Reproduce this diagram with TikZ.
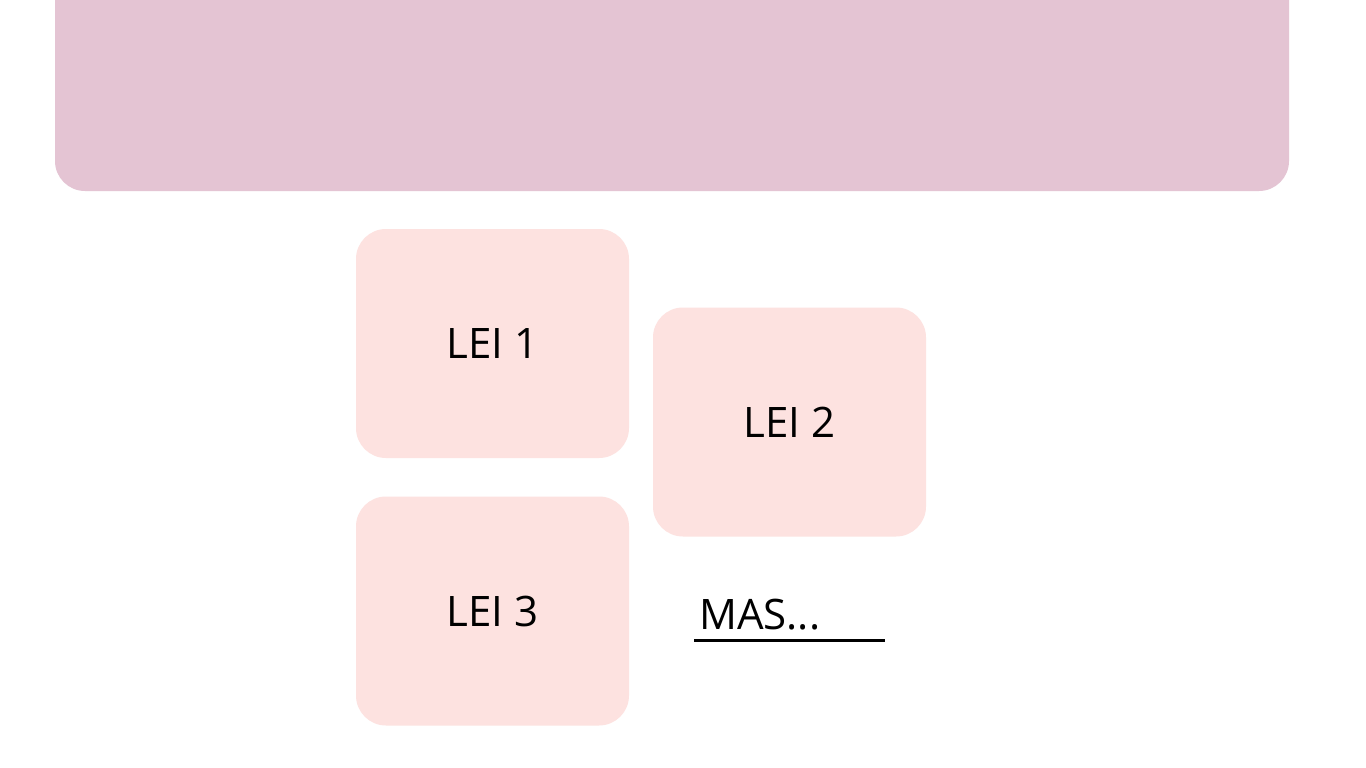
\documentclass[tikz,border=0pt]{standalone}
\usepackage{fontspec}
\setmainfont{Open Sans}
\definecolor{banner}{HTML}{E4C4D3}
\definecolor{boxpink}{HTML}{FDE2E0}
\begin{document}
\begin{tikzpicture}[x=1pt,y=-1pt,
  card/.style={fill=boxpink, draw=none, rounded corners=30pt, minimum width=273pt, minimum height=229pt, inner sep=0pt, text depth=0pt, font=\fontsize{42}{50}\selectfont},
  lbl/.style={font=\fontsize{42}{50}\selectfont, inner sep=0pt, anchor=base west}]
\useasboundingbox (0,0) rectangle (1366,768);
\fill[white] (0,0) rectangle (1366,768);
\fill[banner, rounded corners=30pt] (55,-40) rectangle (1289,191);
\node[card] (lei1) at (492.5,343.5) {LEI 1};
\node[card] (lei2) at (789.5,422) {LEI 2};
\node[card] (lei3) at (492.5,611) {LEI 3};
\node[lbl] (mas) at (699,629) {MAS...};
\coordinate (ua) at (694,640.5);
\coordinate (ub) at (885,640.5);
\draw[line width=2.5pt] (ua) -- (ub);
\end{tikzpicture}
\end{document}
